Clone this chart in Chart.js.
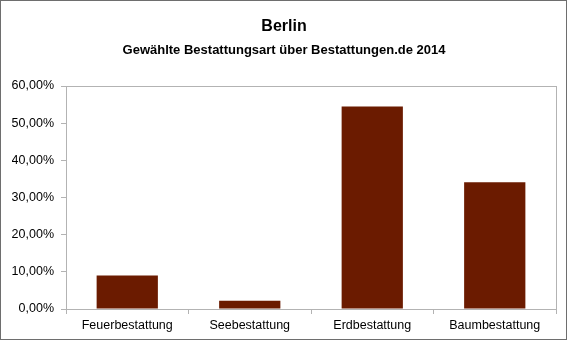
<!DOCTYPE html>
<html>
<head>
<meta charset="utf-8">
<script src="https://cdn.jsdelivr.net/npm/chart.js@4"></script>
<style>
    html, body { margin: 0; padding: 0; background: #fff; }
    #wrap { width: 568px; height: 341px; }
</style>
</head>
<body>
<div id="wrap"><canvas id="burialChart" width="568" height="341"></canvas></div>
<script>
// Bestattungsarten Berlin 2014 (Anteil in Prozent)
const categories = ['Feuerbestattung', 'Seebestattung', 'Erdbestattung', 'Baumbestattung'];
const shares = [9.0, 2.2, 54.5, 34.1];
const yTicks = [0, 10, 20, 30, 40, 50, 60];

const FONT = "'Liberation Sans', Arial, sans-serif";

// German number format: 10 -> "10,00%"
function pct(v) {
    return v.toFixed(2).replace('.', ',') + '%';
}

// Gray frame around the plot area and dark border around the whole picture
const framePlugin = {
    id: 'frame',
    afterDraw(chart) {
        const { ctx, chartArea: a } = chart;
        ctx.save();
        ctx.lineWidth = 1;
        ctx.strokeStyle = '#b3b3b3';
        ctx.strokeRect(Math.round(a.left) + 0.5, Math.round(a.top) + 0.5,
            Math.round(a.right - a.left), Math.round(a.bottom - a.top));
        ctx.strokeStyle = '#6e6e6e';
        ctx.strokeRect(0.5, 0.5, 566, 339);
        ctx.restore();
    }
};

new Chart(document.getElementById('burialChart'), {
    type: 'bar',
    data: {
        labels: categories,
        datasets: [{
            data: shares,
            backgroundColor: '#6b1b00',
            borderWidth: 0,
            categoryPercentage: 0.5,
            barPercentage: 1
        }]
    },
    options: {
        responsive: false,
        animation: false,
        layout: { padding: { top: 0, right: 12, bottom: 0, left: 12 } },
        plugins: {
            legend: { display: false },
            tooltip: { enabled: false },
            title: {
                display: true,
                text: 'Berlin',
                color: '#000',
                font: { family: FONT, size: 16, weight: 'bold' },
                padding: { top: 17, bottom: 4 }
            },
            subtitle: {
                display: true,
                text: 'Gewählte Bestattungsart über Bestattungen.de 2014',
                color: '#000',
                font: { family: FONT, size: 13, weight: 'bold' },
                padding: { top: 2.5, bottom: 27.7 }
            }
        },
        scales: {
            x: {
                afterFit: s => { s.height = 32; },
                grid: {
                    offset: true,
                    drawOnChartArea: false,
                    drawTicks: true,
                    tickLength: 5,
                    color: '#b3b3b3'
                },
                border: { display: false },
                ticks: {
                    color: '#000',
                    padding: 4,
                    font: { family: FONT, size: 12.5 }
                }
            },
            y: {
                min: 0,
                max: 60,
                afterFit: s => { s.width = 54; },
                afterBuildTicks: s => { s.ticks = yTicks.map(v => ({ value: v })); },
                grid: {
                    drawOnChartArea: false,
                    drawTicks: true,
                    tickLength: 5,
                    color: '#b3b3b3'
                },
                border: { display: false },
                ticks: {
                    color: '#000',
                    padding: 7,
                    font: { family: FONT, size: 12.5 },
                    callback: v => pct(v)
                }
            }
        }
    },
    plugins: [framePlugin]
});
</script>
</body>
</html>
